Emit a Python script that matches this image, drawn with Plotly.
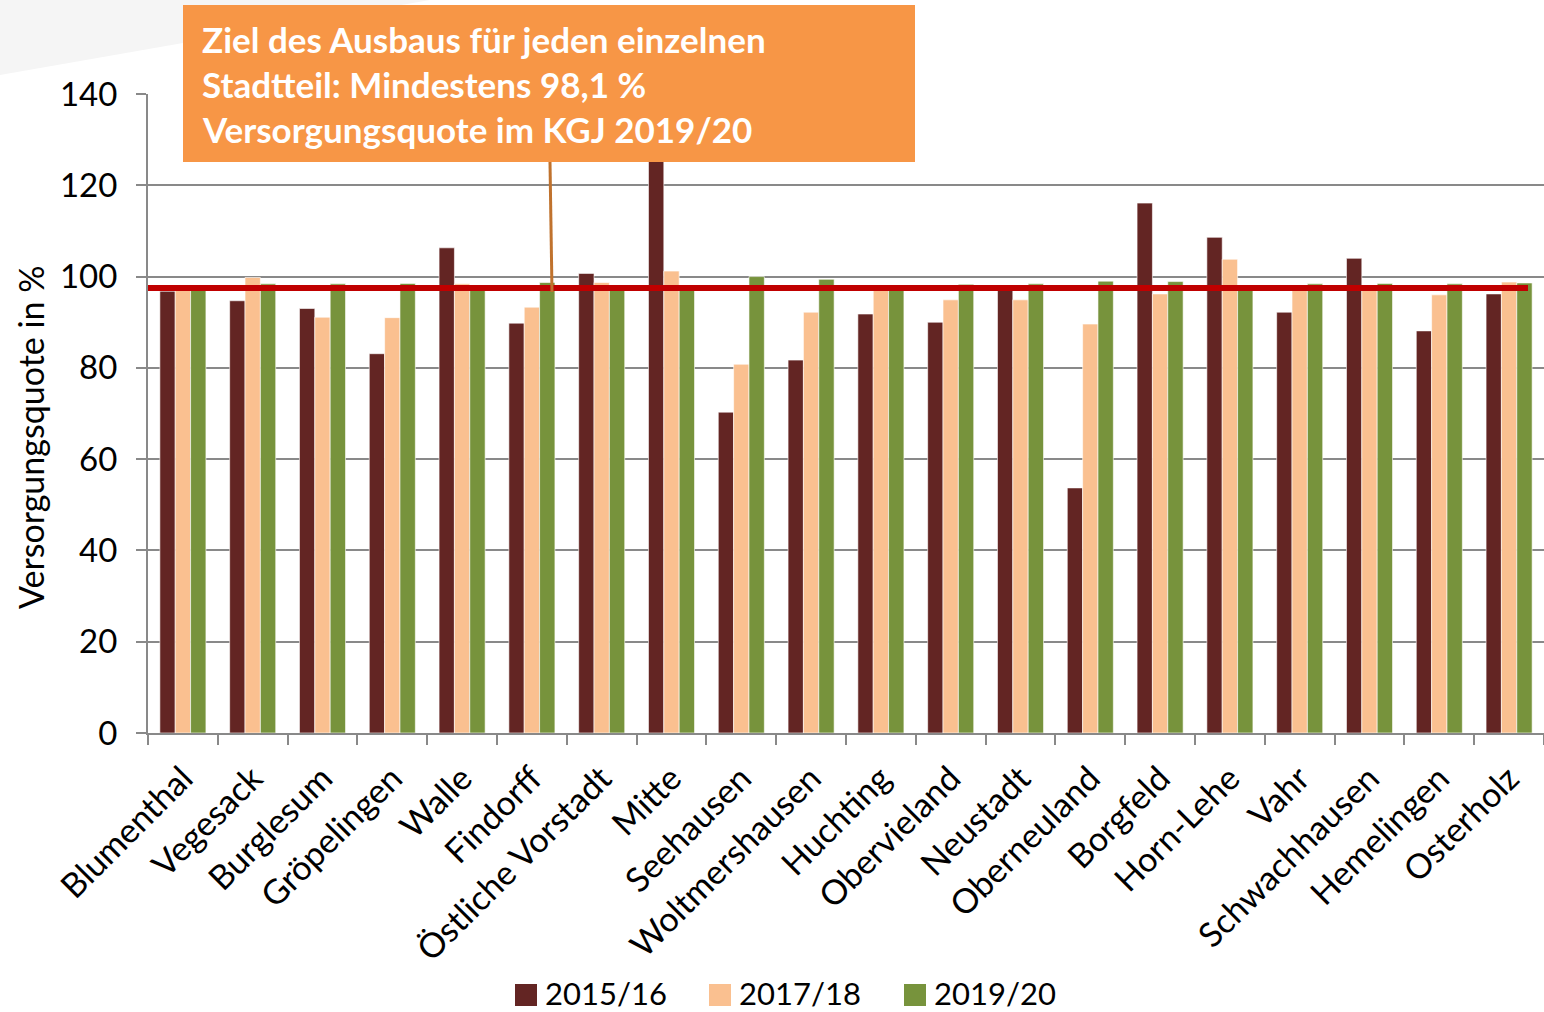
import plotly.graph_objects as go

categories = ["Blumenthal", "Vegesack", "Burglesum", "Gröpelingen", "Walle", "Findorff",
              "Östliche Vorstadt", "Mitte", "Seehausen", "Woltmershausen", "Huchting",
              "Obervieland", "Neustadt", "Oberneuland", "Borgfeld", "Horn-Lehe", "Vahr",
              "Schwachhausen", "Hemelingen", "Osterholz"]
v_2015 = [96.8, 94.7, 93.0, 83.1, 106.3, 89.8, 100.7, 132.0, 70.3, 81.7, 91.8, 90.0,
          97.6, 53.7, 116.1, 108.6, 92.2, 104.0, 88.1, 96.2]
v_2017 = [97.6, 99.8, 91.1, 91.0, 98.4, 93.3, 98.7, 101.2, 80.8, 92.2, 97.0, 94.9,
          94.9, 89.6, 96.2, 103.8, 97.2, 97.2, 96.0, 98.8]
v_2019 = [97.8, 98.4, 98.4, 98.5, 97.8, 98.7, 97.6, 97.4, 100.0, 99.4, 97.6, 98.3,
          98.4, 99.0, 98.9, 97.6, 98.4, 98.5, 98.4, 98.6]
series_names = ["2015/16", "2017/18", "2019/20"]
series_colors = ["#632523", "#FAC090", "#77933C"]
target_line = 97.5
y_ticks = [0, 20, 40, 60, 80, 100, 120, 140]
box_lines = ["Ziel des Ausbaus für jeden einzelnen",
             "Stadtteil: Mindestens 98,1 %",
             "Versorgungsquote im KGJ 2019/20"]

W, H = 1544, 1012
L, R, T, B = 148, 0, 94, 279
PW, PH = W - L - R, H - T - B

def px(x):
    return (x - L) / PW

def py(y):
    return (H - B - y) / PH

FONT = "Lato"

fig = go.Figure()
for name, vals, col in zip(series_names, [v_2015, v_2017, v_2019], series_colors):
    fig.add_trace(go.Bar(x=categories, y=vals, name=name, marker_color=col, showlegend=False,
                         marker_line=dict(color="rgba(255,255,255,0.6)", width=1)))

shapes = []
shapes.append(dict(type="path", xref="paper", yref="paper", layer="below",
                   path=f"M {px(0)},{py(0)} L {px(430)},{py(0)} L {px(0)},{py(75)} Z",
                   fillcolor="#F5F5F5", line=dict(width=0)))
shapes.append(dict(type="line", xref="paper", yref="y", x0=0, x1=px(1528),
                   y0=target_line, y1=target_line, line=dict(color="#C00000", width=6),
                   layer="above"))
shapes.append(dict(type="line", xref="paper", yref="paper", x0=px(550), x1=px(552),
                   y0=py(162), y1=py(292), line=dict(color="#C0722D", width=3), layer="above"))
shapes.append(dict(type="rect", xref="paper", yref="paper", x0=px(183), x1=px(915),
                   y0=py(5), y1=py(162), fillcolor="#F79646", line=dict(width=0),
                   layer="above"))

annotations = []
for i, t in enumerate(box_lines):
    annotations.append(dict(text=f"<b>{t}</b>", xref="paper", yref="paper",
                            x=px(200), y=py(39 + 45 * i), xanchor="left", yanchor="middle",
                            showarrow=False, font=dict(family=FONT, size=35, color="white")))
annotations.append(dict(text="Versorgungsquote in %", xref="paper", yref="paper",
                        x=px(30), y=py(437), xanchor="center", yanchor="middle",
                        textangle=-90, showarrow=False,
                        font=dict(family=FONT, size=34, color="black")))

# legend drawn as squares + labels
legend_sq_x = [515, 709, 904]
for name, col, sx in zip(series_names, series_colors, legend_sq_x):
    shapes.append(dict(type="rect", xref="paper", yref="paper", x0=px(sx), x1=px(sx + 22),
                       y0=py(984), y1=py(1006), fillcolor=col, line=dict(width=0)))
    annotations.append(dict(text=name, xref="paper", yref="paper", x=px(sx + 28), y=py(993),
                            xanchor="left", yanchor="middle", showarrow=False,
                            font=dict(family=FONT, size=31, color="black")))

fig.update_layout(
    width=W, height=H,
    margin=dict(l=L, r=R, t=T, b=B, pad=0),
    paper_bgcolor="white", plot_bgcolor="white",
    barmode="group", bargap=0.34, bargroupgap=0,
    font=dict(family=FONT, size=28, color="black"),
    shapes=shapes, annotations=annotations,
    showlegend=False,
)
fig.update_xaxes(type="category", showline=True, linecolor="#898989", linewidth=2,
                 ticks="outside", tickson="boundaries", ticklen=10, tickcolor="#898989",
                 tickwidth=2, tickangle=-45, tickfont=dict(family=FONT, size=34),
                 showgrid=False, ticklabelstandoff=10)
fig.update_yaxes(range=[0, 140], tickvals=y_ticks, showline=True, linecolor="#898989",
                 linewidth=2, ticks="outside", ticklen=10, tickcolor="#898989", tickwidth=2,
                 showgrid=True, gridcolor="#898989", gridwidth=2, zeroline=False,
                 tickfont=dict(family=FONT, size=33), ticklabelstandoff=12)

fig.write_html("out.html", config={"displayModeBar": False},
               post_script="document.body.style.margin='0';")
